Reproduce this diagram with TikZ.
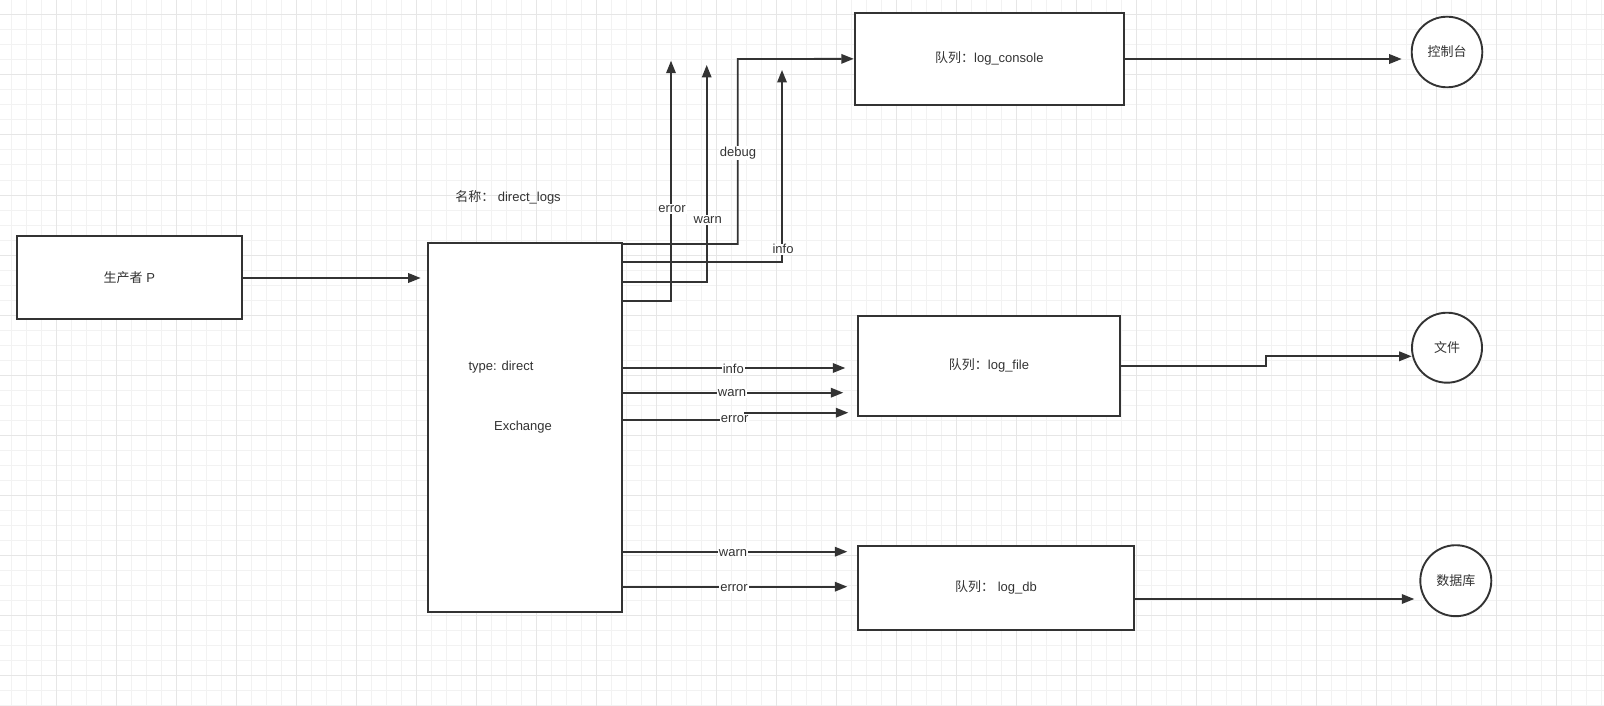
\documentclass[tikz,border=0pt]{standalone}
\usepackage{fontspec}
\setmainfont{Liberation Sans}
\newfontfamily\cjk{Noto Sans CJK SC}
\usetikzlibrary{arrows.meta}
\definecolor{ink}{HTML}{333333}
\definecolor{gminor}{HTML}{F2F2F2}
\definecolor{gmajor}{HTML}{E6E6E6}
\begin{document}
\begin{tikzpicture}[x=1pt,y=-1pt,
  txt/.style={font=\fontsize{13}{15}\selectfont, text=ink},
  box/.style={draw=ink, line width=1.9pt, fill=white, inner sep=0pt, txt},
  circ/.style={circle, draw=ink, line width=1.9pt, fill=white, inner sep=0pt, txt},
  conn/.style={draw=ink, line width=1.8pt},
  arr/.style={conn, -{Triangle[length=12.5pt,width=9.5pt]}},
  lbl/.style={txt, fill=white, inner sep=1pt},
]
\useasboundingbox (0,0) rectangle (1604,706);
\fill[white] (0,0) rectangle (1604,706);
% grid
\foreach \i in {0,...,106} \draw[gminor, line width=1pt] ({11.7+15*\i},0) -- ({11.7+15*\i},706);
\foreach \j in {0,...,47} \draw[gminor, line width=1pt] (0,{15*\j}) -- (1604,{15*\j});
\foreach \i in {0,...,25} \draw[gmajor, line width=1pt] ({56.7+60*\i},0) -- ({56.7+60*\i},706);
\foreach \j in {0,...,11} \draw[gmajor, line width=1pt] (0,{15+60*\j}) -- (1604,{15+60*\j});

% nodes
\node[box, minimum width=225.3pt, minimum height=83pt] (prod) at (129.3,277.2) {{\cjk 生产者} P};
\node[box, minimum width=194.3pt, minimum height=369.3pt] (ex) at (524.85,427.35) {};
\node[txt] (exname) at (508,197.3) {{\cjk 名称：}\ direct\_logs};
\node[txt] (extype) at (501,366.7) {type: direct};
\node[txt] (exlbl) at (523,427.3) {Exchange};
\node[box, minimum width=269.3pt, minimum height=92.3pt] (con) at (989.35,58.85) {{\cjk 队列：}log\_console};
\node[box, minimum width=262.6pt, minimum height=100pt] (file) at (989,365.7) {{\cjk 队列：}log\_file};
\node[box, minimum width=276.6pt, minimum height=84.3pt] (db) at (996,587.85) {{\cjk 队列：} log\_db};
\node[circ, minimum size=70.6pt] (cc) at (1447,52) {\cjk 控制台};
\node[circ, minimum size=70pt] (fc) at (1447,347.7) {\cjk 文件};
\node[circ, minimum size=71pt] (dc) at (1455.8,580.7) {\cjk 数据库};

% free ends and turning points
\coordinate (pe) at (420.7,278);
\coordinate (dbgTurn) at (737.7,59);
\coordinate (tInfo) at (782,70);
\coordinate (tWarn) at (706.7,65);
\coordinate (tErr) at (671,60.7);
\coordinate (fInfo) at (845.3,368);
\coordinate (fWarn) at (843.3,392.7);
\coordinate (fErrJog) at (745,419.7);
\coordinate (fErr) at (848.3,412.7);
\coordinate (dWarn) at (847.3,551.7);
\coordinate (dErr) at (847.3,586.7);
\coordinate (oCon) at (1401.7,59);
\coordinate (oFileJog) at (1266,366);
\coordinate (oFile) at (1411.7,356.3);
\coordinate (oDb) at (1414.3,599);

% connectors
\draw[arr] (prod.east |- pe) -- (pe);
\draw[arr] (ex.east |- 0,244) -| (dbgTurn) -- (con.west);
\draw[arr] (ex.east |- 0,261.7) -| (tInfo);
\draw[arr] (ex.east |- 0,281.7) -| (tWarn);
\draw[arr] (ex.east |- 0,300.7) -| (tErr);
\draw[arr] (ex.east |- fInfo) -- (fInfo);
\draw[arr] (ex.east |- fWarn) -- (fWarn);
\draw[arr] (ex.east |- fErrJog) -- (fErrJog) |- (fErr);
\draw[arr] (ex.east |- dWarn) -- (dWarn);
\draw[arr] (ex.east |- dErr) -- (dErr);
\draw[arr] (con.east |- oCon) -- (oCon);
\draw[arr] (file.east |- oFileJog) -- (oFileJog) |- (oFile);
\draw[arr] (db.east |- oDb) -- (oDb);

% labels
\node[lbl] (lDebug) at (738,152.7) {debug};
\node[lbl] (lErrT) at (672,209) {error};
\node[lbl] (lWarnT) at (707.7,220) {warn};
\node[lbl] (lInfoT) at (783,249.3) {info};
\node[lbl] (lInfoF) at (733.3,369.3) {info};
\node[lbl] (lWarnF) at (732,393.3) {warn};
\node[lbl] (lErrF) at (734.7,418.7) {error};
\node[lbl] (lWarnD) at (733,552.7) {warn};
\node[lbl] (lErrD) at (734,588.3) {error};
\end{tikzpicture}
\end{document}
